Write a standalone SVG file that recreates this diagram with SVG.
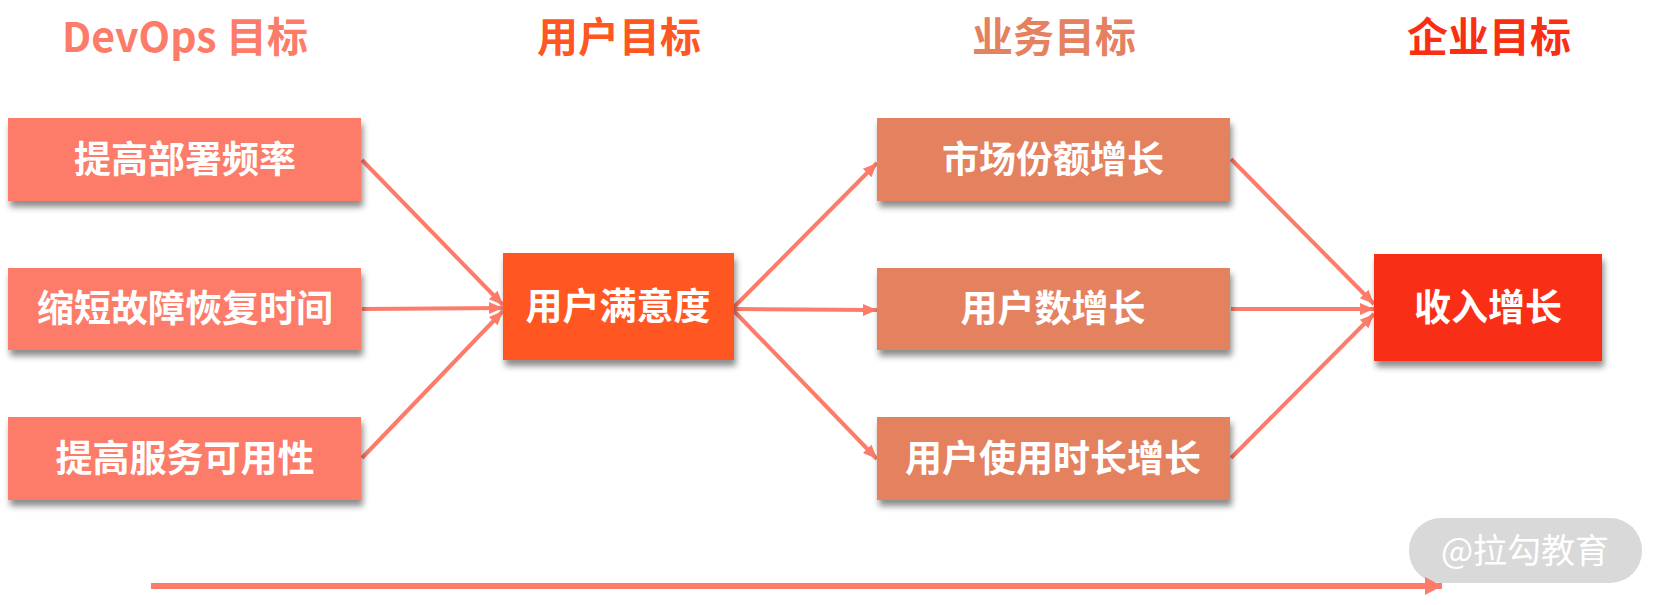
<svg xmlns="http://www.w3.org/2000/svg" width="1665" height="605" viewBox="0 0 1665 605">
<style>
  text { font-family: "Noto Sans CJK SC", "Noto Sans", sans-serif; }
  .hd { font-size: 41px; font-weight: 700; text-anchor: middle; }
  .lb { font-size: 37px; font-weight: 700; fill: #ffffff; text-anchor: middle; }
  .box { filter: url(#sh); }
  .c-dev { fill: #FC7B69; }
  .c-user { fill: #FF5722; }
  .c-biz { fill: #E4815F; }
  .c-ent { fill: #F92E12; }
  .conn { stroke: #FC7B69; stroke-width: 4; fill: none; marker-end: url(#ah); }
</style>
<defs>
  <filter id="sh" x="-10%" y="-10%" width="130%" height="140%">
    <feDropShadow dx="2" dy="6" stdDeviation="3" flood-color="#000" flood-opacity="0.45"/>
  </filter>
  <marker id="ah" markerUnits="userSpaceOnUse" markerWidth="16" markerHeight="16" viewBox="0 0 16 16" refX="15" refY="8" orient="auto">
    <path d="M1,2 L15,8 L1,14 Z" fill="#FC7B69"/>
  </marker>
  <marker id="ahb" markerUnits="userSpaceOnUse" markerWidth="20" markerHeight="20" viewBox="0 0 20 20" refX="18" refY="10" orient="auto">
    <path d="M1,1 L18,10 L1,19 Z" fill="#FC7B69"/>
  </marker>
</defs>

<g id="headers">
  <text class="hd" x="185" y="52" fill="#FC7B69">DevOps 目标</text>
  <text class="hd" x="619" y="52" fill="#FF5722">用户目标</text>
  <text class="hd" x="1054" y="52" fill="#E4815F">业务目标</text>
  <text class="hd" x="1489" y="52" fill="#F92E12">企业目标</text>
</g>

<g id="connectors">
  <path class="conn" d="M362,160 L503,305"/>
  <path class="conn" d="M362,309 L503,308"/>
  <path class="conn" d="M362,458 L503,311"/>
  <path class="conn" d="M734,307 L877,163"/>
  <path class="conn" d="M734,309 L877,310"/>
  <path class="conn" d="M734,311 L877,459"/>
  <path class="conn" d="M1231,159 L1374,304"/>
  <path class="conn" d="M1231,309 L1374,309"/>
  <path class="conn" d="M1231,458 L1374,314"/>
</g>

<g id="node-deploy">
  <rect class="box c-dev" x="8" y="118" width="353" height="83"/>
  <text class="lb" x="185" y="173">提高部署频率</text>
</g>
<g id="node-mttr">
  <rect class="box c-dev" x="8" y="268" width="353" height="82"/>
  <text class="lb" x="185" y="322">缩短故障恢复时间</text>
</g>
<g id="node-avail">
  <rect class="box c-dev" x="8" y="417" width="353" height="83"/>
  <text class="lb" x="185" y="472">提高服务可用性</text>
</g>
<g id="node-satisfaction">
  <rect class="box c-user" x="503" y="253" width="231" height="107"/>
  <text class="lb" x="618" y="320">用户满意度</text>
</g>
<g id="node-share">
  <rect class="box c-biz" x="877" y="118" width="353" height="83"/>
  <text class="lb" x="1053" y="173">市场份额增长</text>
</g>
<g id="node-users">
  <rect class="box c-biz" x="877" y="268" width="353" height="82"/>
  <text class="lb" x="1053" y="322">用户数增长</text>
</g>
<g id="node-usage">
  <rect class="box c-biz" x="877" y="417" width="353" height="83"/>
  <text class="lb" x="1053" y="472">用户使用时长增长</text>
</g>
<g id="node-revenue">
  <rect class="box c-ent" x="1374" y="254" width="228" height="107"/>
  <text class="lb" x="1488" y="321">收入增长</text>
</g>

<g id="watermark">
  <rect x="1409" y="518" width="233" height="65" rx="32" fill="#D9D9D9"/>
  <text x="1525" y="563" font-size="34" fill="#ffffff" text-anchor="middle">@拉勾教育</text>
</g>

<g id="timeline">
  <path d="M151,586 L1442,586" stroke="#FC7B69" stroke-width="6" fill="none" marker-end="url(#ahb)"/>
</g>
</svg>
